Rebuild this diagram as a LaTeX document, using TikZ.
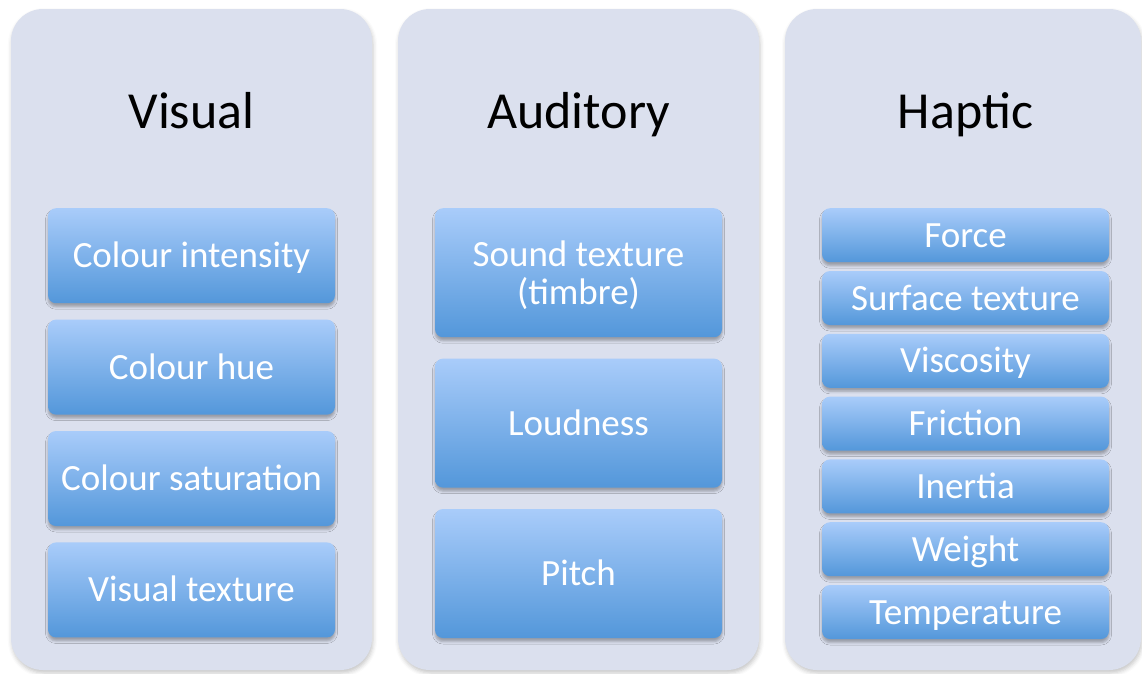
\documentclass[tikz,border=0pt]{standalone}
\usepackage{fontspec}
\setmainfont{Carlito}
\usetikzlibrary{positioning,shadows.blur}
\definecolor{panelFill}{HTML}{DBE0EE}
\definecolor{boxTop}{HTML}{A9CCFA}
\definecolor{boxBottom}{HTML}{5397DA}
\begin{document}
\begin{tikzpicture}[x=1pt, y=-1pt,
  panel/.style={rectangle, rounded corners=32pt, fill=panelFill, minimum width=361pt, minimum height=661pt, blur shadow={shadow xshift=1pt, shadow yshift=-3pt, shadow blur radius=4pt, shadow opacity=22}},
  title/.style={font=\fontsize{52}{60}\selectfont, anchor=base},
  item/.style={rectangle, rounded corners=8pt, top color=boxTop, bottom color=boxBottom, text=white, minimum width=287pt, font=\fontsize{37}{38}\selectfont, text height=24pt, text depth=0pt, align=center, blur shadow={shadow xshift=0pt, shadow yshift=-3.5pt, shadow blur radius=2.5pt, shadow opacity=30}},
  visItem/.style={item, minimum height=95pt},
  audItem/.style={item, minimum height=129pt},
  hapItem/.style={item, minimum height=54pt}
]
\useasboundingbox (0,0) rectangle (1142,673);
\node[panel] (visPanel) at (191.5,339.5) {};
\node[panel] (audPanel) at (578.5,339.5) {};
\node[panel, minimum width=356pt] (hapPanel) at (963,339.5) {};
\node[title] (visTitle) at (191.5,128) {Visual};
\node[title] (audTitle) at (578.5,128) {Auditory};
\node[title] (hapTitle) at (965.5,128) {Haptic};
% visual
\node[visItem, anchor=north] (intensity) at (191.5,208) {Colour intensity};
\node[visItem, below=16pt of intensity] (hue) {Colour hue};
\node[visItem, below=16pt of hue] (saturation) {Colour saturation};
\node[visItem, below=16pt of saturation] (vtexture) {Visual texture};
% auditory
\node[audItem, anchor=north, text height=64pt] (timbre) at (578.5,208) {Sound texture\\(timbre)};
\node[audItem, below=21pt of timbre] (loudness) {Loudness};
\node[audItem, below=21pt of loudness] (pitch) {Pitch};
% haptic
\node[hapItem, anchor=north] (force) at (965.5,208) {Force};
\node[hapItem, below=8.4pt of force] (stexture) {Surface texture};
\node[hapItem, below=8.4pt of stexture] (viscosity) {Viscosity};
\node[hapItem, below=8.4pt of viscosity] (friction) {Friction};
\node[hapItem, below=8.4pt of friction] (inertia) {Inertia};
\node[hapItem, below=8.4pt of inertia] (weight) {Weight};
\node[hapItem, below=8.4pt of weight] (temperature) {Temperature};
\end{tikzpicture}
\end{document}
